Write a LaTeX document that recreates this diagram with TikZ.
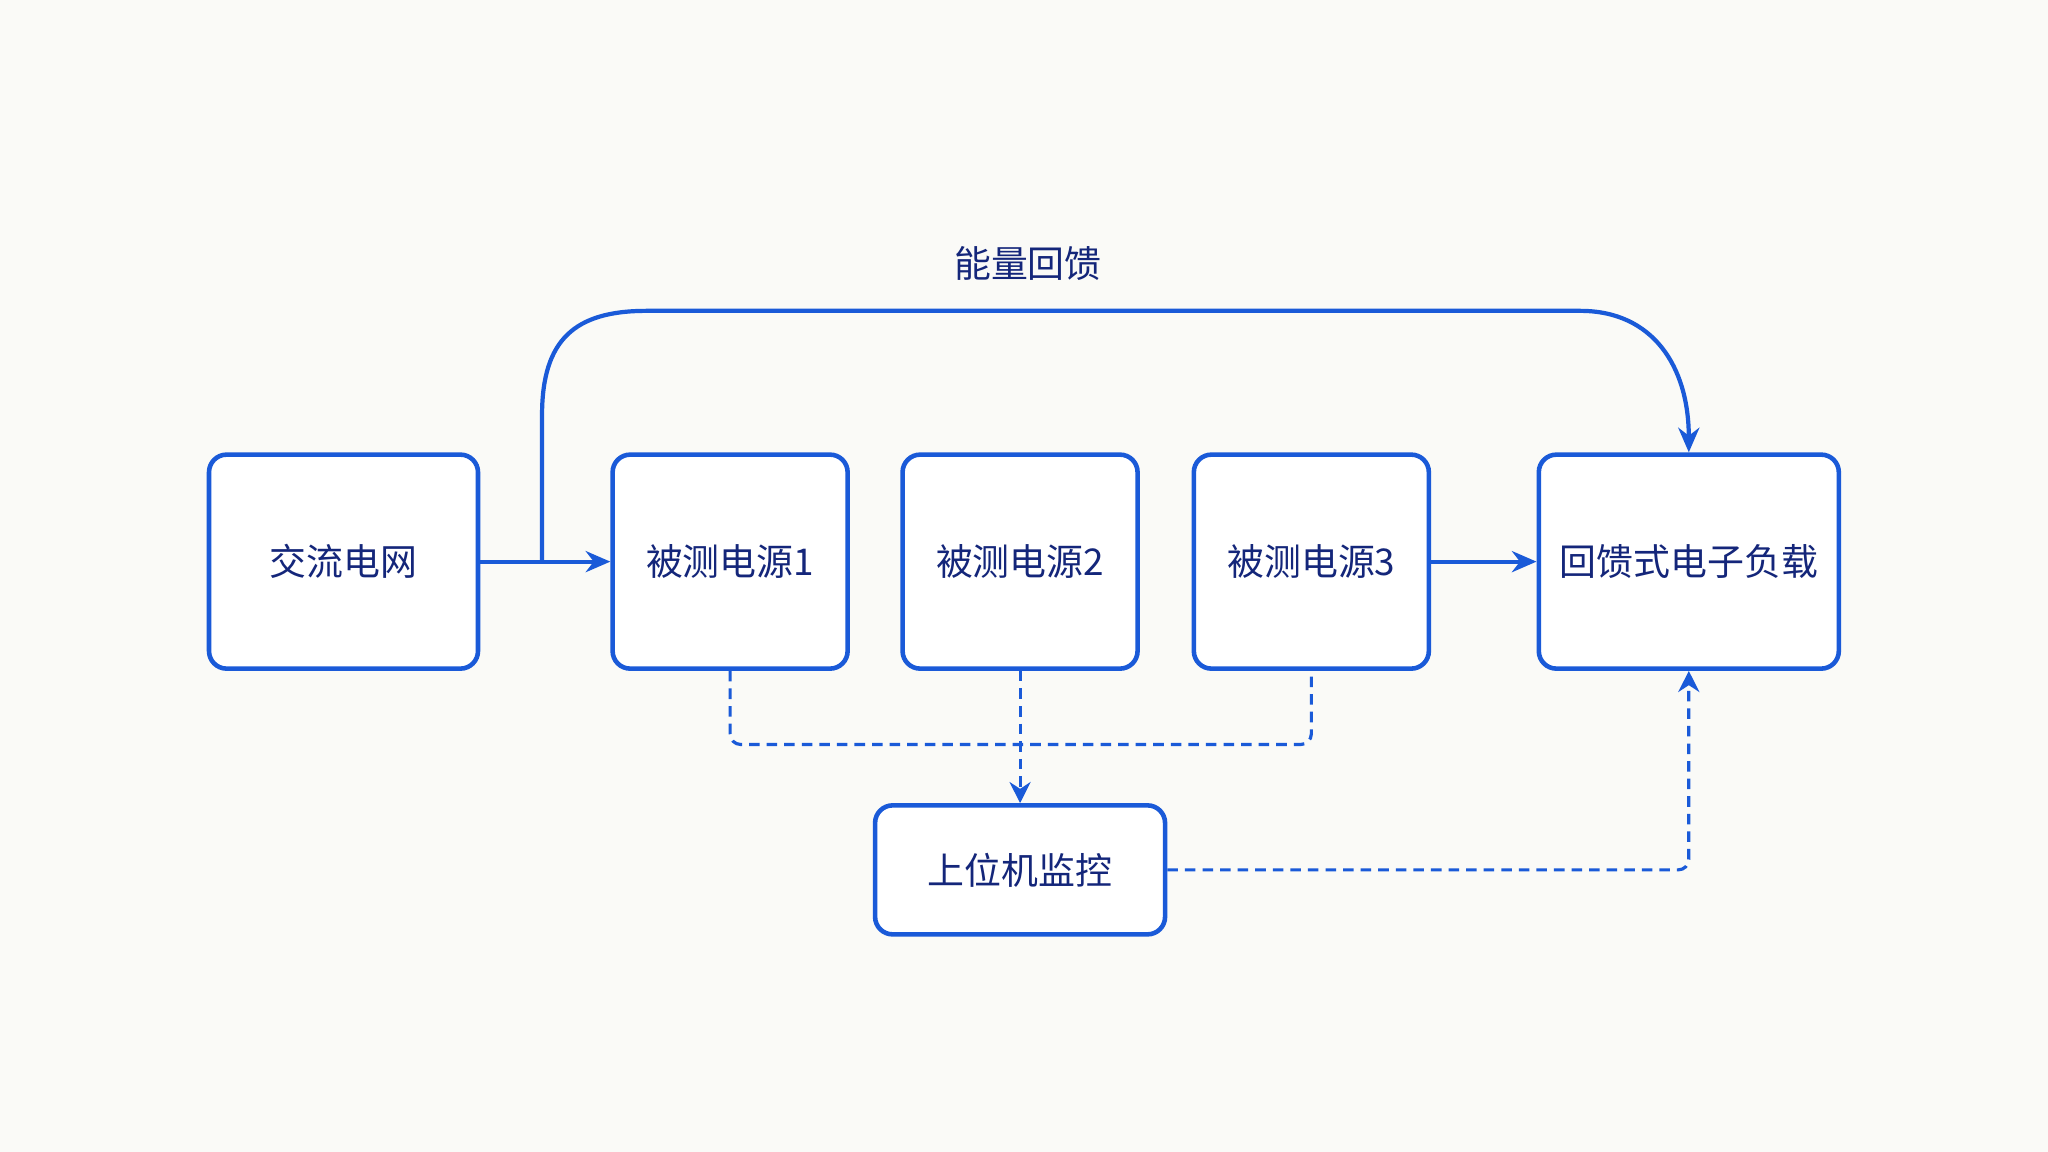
\documentclass[tikz,border=0pt]{standalone}
\usepackage{fontspec}
\setmainfont{Noto Sans CJK SC}
\usetikzlibrary{arrows.meta}
\definecolor{boxblue}{HTML}{1A5AD8}
\definecolor{txtblue}{HTML}{14267A}
\definecolor{bgpaper}{HTML}{FAFAF7}
\tikzset{
  blk/.style={draw=boxblue, line width=1.3pt, rounded corners=5pt, fill=white,
    text=txtblue, font=\fontsize{10.5}{13}\selectfont, inner sep=0pt},
  flow/.style={draw=boxblue, line width=1.2pt, -{Stealth[length=7pt,width=6pt]}},
  ctrl/.style={draw=boxblue, line width=0.9pt, dash pattern=on 3pt off 2pt, rounded corners=3pt}
}
\begin{document}
\begin{tikzpicture}[x=0.01306cm, y=-0.01306cm]
    % paper
    \fill[bgpaper] (0,0) rectangle (1568,882);
    \useasboundingbox (0,0) rectangle (1568,882);

    % blocks
    \node[blk, minimum width=2.69cm, minimum height=2.14cm] (grid) at (263,430) {交流电网};
    \node[blk, minimum width=2.35cm, minimum height=2.14cm] (dut1) at (559,430) {被测电源1};
    \node[blk, minimum width=2.35cm, minimum height=2.14cm] (dut2) at (781,430) {被测电源2};
    \node[blk, minimum width=2.35cm, minimum height=2.14cm] (dut3) at (1004,430) {被测电源3};
    \node[blk, minimum width=3.00cm, minimum height=2.14cm] (load) at (1293,430) {回馈式电子负载};
    \node[blk, minimum width=2.90cm, minimum height=1.29cm] (pc) at (781,666) {上位机监控};
    \node[text=txtblue, font=\fontsize{10.5}{13}\selectfont] (lbl) at (787,202) {能量回馈};

    % power flow
    \draw[flow] (grid.east) -- (dut1.west);
    \draw[flow] (dut3.east) -- (load.west);
    \coordinate (tap) at (415,430);
    \draw[flow] (tap) -- (415,318) .. controls (415,260) and (440,238) .. (495,238)
        -- (1210,238) .. controls (1265,238) and (1293,280) .. (load.north);

    % monitoring
    \draw[ctrl] (dut1.south) -- (559,570) -- (1004,570) -- (dut3.south);
    \draw[ctrl, -{Stealth[length=6pt,width=6pt]}] (dut2.south) -- (pc.north);
    \draw[ctrl, -{Stealth[length=6pt,width=6pt]}] (pc.east) -| (load.south);
\end{tikzpicture}
\end{document}
